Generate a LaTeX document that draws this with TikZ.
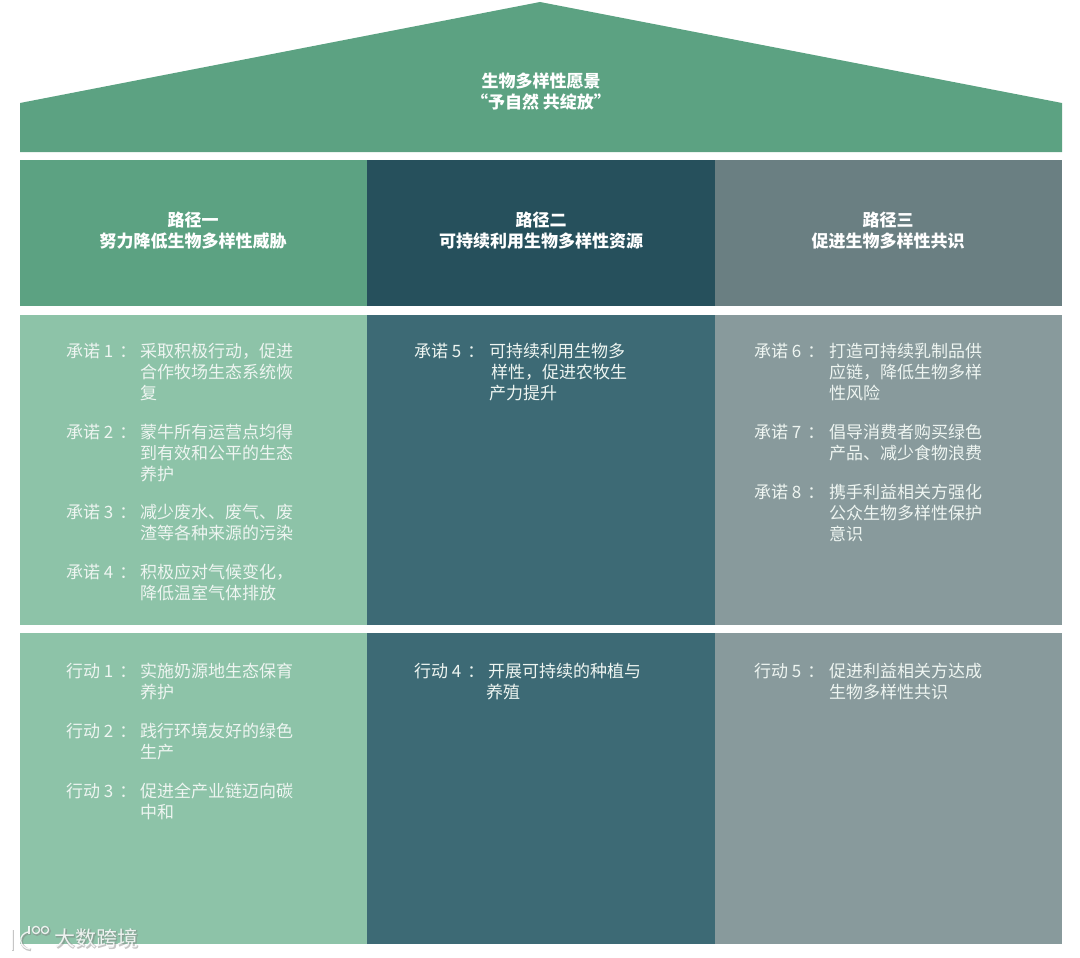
\documentclass[tikz,border=0pt]{standalone}
\usepackage{fontspec}
\setmainfont{Noto Sans CJK SC}
\definecolor{roofgreen}{RGB}{92,162,130}
\definecolor{darkteal}{RGB}{38,80,92}
\definecolor{slategray}{RGB}{106,127,130}
\definecolor{lightgreen}{RGB}{141,195,168}
\definecolor{midteal}{RGB}{61,106,117}
\definecolor{lightslate}{RGB}{136,154,156}
\definecolor{softwhite}{RGB}{238,245,241}
\begin{document}
\begin{tikzpicture}[x=1pt,y=-1pt,
font=\fontsize{17}{21}\selectfont,
cell/.style={anchor=north west,inner sep=0pt,outer sep=0pt,minimum width=347.5pt},
head/.style={white,align=center,font=\fontsize{17}{21}\selectfont\bfseries},
tag/.style={softwhite,anchor=north west,inner sep=0pt},
body/.style={softwhite,anchor=north west,inner sep=0pt,align=left},
markline/.style={white,opacity=.85,line width=1.3pt},
markshade/.style={black!50,opacity=.45,line width=2.6pt}]
\useasboundingbox (0,0) rectangle (1080,958);
\fill[roofgreen] (20,103) -- (540,2) -- (1062,103) -- (1062,152) -- (20,152) -- cycle;
\node[head] (vision) at (541,91.5) {生物多样性愿景\\“予自然 共绽放”};
% three paths
\node[cell,fill=roofgreen,minimum height=146pt] (path1) at (20,160) {};
\node[cell,fill=darkteal,minimum height=146pt] (path2) at (367,160) {};
\node[cell,fill=slategray,minimum height=146pt] (path3) at (714.5,160) {};
\node[head] at (193,230.5) {路径一\\努力降低生物多样性威胁};
\node[head] at (541,230.5) {路径二\\可持续利用生物多样性资源};
\node[head] at (888,230.5) {路径三\\促进生物多样性共识};
% pledges
\node[cell,fill=lightgreen,minimum height=310pt] (pledge1) at (20,315) {};
\node[cell,fill=midteal,minimum height=310pt] (pledge2) at (367,315) {};
\node[cell,fill=lightslate,minimum height=310pt] (pledge3) at (714.5,315) {};
\node[tag] at (66,343) {承诺 1\hspace{6pt}：};
\node[body] at (140,343) {采取积极行动，促进\\合作牧场生态系统恢\\复};
\node[tag] at (66,424) {承诺 2\hspace{6pt}：};
\node[body] at (140,424) {蒙牛所有运营点均得\\到有效和公平的生态\\养护};
\node[tag] at (66,504) {承诺 3\hspace{6pt}：};
\node[body] at (140,504) {减少废水、废气、废\\渣等各种来源的污染};
\node[tag] at (66,564) {承诺 4\hspace{6pt}：};
\node[body] at (140,564) {积极应对气候变化，\\降低温室气体排放};
\node[tag] at (414,343) {承诺 5\hspace{6pt}：};
\node[body] at (489,343) {可持续利用生物多\\\hspace*{2pt}样性，促进农牧生\\产力提升};
\node[tag] at (754,343) {承诺 6\hspace{6pt}：};
\node[body] at (829,343) {打造可持续乳制品供\\应链，降低生物多样\\性风险};
\node[tag] at (754,424) {承诺 7\hspace{6pt}：};
\node[body] at (829,424) {倡导消费者购买绿色\\产品、减少食物浪费};
\node[tag] at (754,484) {承诺 8\hspace{6pt}：};
\node[body] at (829,484) {携手利益相关方强化\\公众生物多样性保护\\意识};
% actions
\node[cell,fill=lightgreen,minimum height=311pt] (action1) at (20,633) {};
\node[cell,fill=midteal,minimum height=311pt] (action2) at (367,633) {};
\node[cell,fill=lightslate,minimum height=311pt] (action3) at (714.5,633) {};
\node[tag] at (66,663) {行动 1\hspace{6pt}：};
\node[body] at (140,663) {实施奶源地生态保育\\养护};
\node[tag] at (66,723) {行动 2\hspace{6pt}：};
\node[body] at (140,723) {践行环境友好的绿色\\生产};
\node[tag] at (66,783) {行动 3\hspace{6pt}：};
\node[body] at (140,783) {促进全产业链迈向碳\\中和};
\node[tag] at (414,663) {行动 4\hspace{6pt}：};
\node[body] at (488,663) {开展可持续的种植与\\\hspace*{-2pt}养殖};
\node[tag] at (754,663) {行动 5\hspace{6pt}：};
\node[body] at (829,663) {促进利益相关方达成\\生物多样性共识};
% watermark
\foreach \s/\d in {markshade/1,markline/0}{
\draw[\s] (12+\d,929+\d) -- (12+\d,950+\d);
\draw[\s] (28+\d,932+\d) .. controls (18+\d,934+\d) and (18+\d,948+\d) .. (30+\d,949+\d);
\draw[\s] (29+\d,926+\d) -- (29+\d,934+\d);
\draw[\s] (36+\d,930+\d) circle (3.6);
\draw[\s] (45+\d,930+\d) circle (3.6);
}
\node[black!50,opacity=.45,anchor=west,inner sep=0pt,font=\fontsize{21}{23}\selectfont\bfseries] at (55,939) {大数跨境};
\node[white,opacity=.85,anchor=west,inner sep=0pt,font=\fontsize{21}{23}\selectfont] (brand) at (54,938) {大数跨境};
\end{tikzpicture}
\end{document}
